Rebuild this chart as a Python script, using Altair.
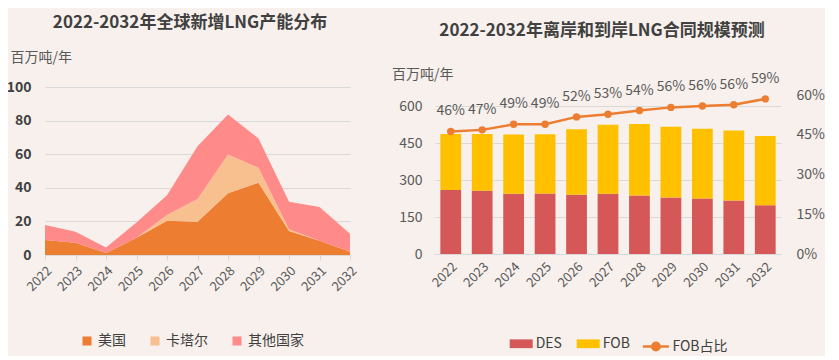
import altair as alt
import pandas as pd

# ---------------- data ----------------
years = [str(y) for y in range(2022, 2033)]

# left: new LNG capacity (million tonnes / year)
us = [9.0, 7.3, 1.2, 10.3, 20.4, 19.8, 36.8, 43.0, 14.3, 8.5, 2.0]
qatar = [0.0, 0.0, 0.0, 0.0, 3.4, 13.5, 23.0, 8.9, 1.1, 0.0, 0.0]
others = [8.8, 6.6, 3.2, 9.1, 11.8, 31.5, 23.8, 17.4, 16.3, 20.0, 10.7]
region_names = ["美国", "卡塔尔", "其他国家"]
region_colors = ["#ED7D31", "#F8C08F", "#FF8A8A"]

# right: DES / FOB contract volume (million tonnes / year)
des = [260, 257, 245, 246, 241, 245, 238, 229, 225, 217, 198]
fob = [227, 230, 240, 240, 265, 280, 290, 288, 284, 284, 281]
fob_share = [0.463, 0.469, 0.490, 0.490, 0.518, 0.528, 0.542, 0.554, 0.559, 0.564, 0.586]
fob_share_labels = ["46%", "47%", "49%", "49%", "52%", "53%", "54%", "56%", "56%", "56%", "59%"]
contract_names = ["DES", "FOB"]
contract_colors = ["#D55757", "#FFC000"]
share_name = "FOB占比"
line_color = "#ED7D31"

FONT = "Noto Sans CJK SC"
DARK = "#404040"
GREY = "#595959"
GRID = "#D9D9D9"

# ---------------- left chart ----------------
rows = []
for i, yv in enumerate(years):
    for k, (name, vals) in enumerate(zip(region_names, [us, qatar, others])):
        rows.append({"year": yv, "region": name, "value": vals[i], "order": k})
df_left = pd.DataFrame(rows)

left = alt.Chart(df_left).mark_area(opacity=1).encode(
    x=alt.X("year:O", title=None,
            scale=alt.Scale(type="point", padding=0),
            axis=alt.Axis(labelAngle=-45, labelFontSize=13, labelColor=GREY,
                          domainColor=GRID, tickColor=GRID, tickSize=5,
                          labelPadding=4, grid=False)),
    y=alt.Y("value:Q", stack="zero", title="百万吨/年",
            scale=alt.Scale(domain=[0, 100]),
            axis=alt.Axis(values=[0, 20, 40, 60, 80, 100], format="d",
                          labelFontSize=14, labelFontWeight="bold", labelColor=DARK,
                          labelPadding=14, domain=False, ticks=False,
                          gridColor=GRID, titleAngle=0, titleAlign="left",
                          titleBaseline="middle", titleX=-35, titleY=-30,
                          titleFontSize=14, titleFontWeight="normal", titleColor=GREY)),
    color=alt.Color("region:N",
                    scale=alt.Scale(domain=region_names, range=region_colors),
                    legend=alt.Legend(title=None, orient="none", legendX=35, legendY=247,
                                      direction="horizontal", symbolType="square",
                                      symbolSize=81, symbolStrokeWidth=0,
                                      labelFontSize=14, labelColor=DARK,
                                      labelOffset=4, columnPadding=22)),
    order=alt.Order("order:Q", sort="ascending"),
).properties(
    width=305, height=168,
    title=alt.TitleParams("2022-2032年全球新增LNG产能分布", fontSize=17, fontWeight="bold",
                          color=DARK, anchor="middle", frame="group", offset=18, dx=-7.5),
)

# ---------------- right chart ----------------
brows = []
for i, yv in enumerate(years):
    for k, (name, vals) in enumerate(zip(contract_names, [des, fob])):
        brows.append({"year": yv, "type": name, "value": vals[i], "order": k})
df_bar = pd.DataFrame(brows)

df_line = pd.DataFrame({"year": years, "share": fob_share,
                        "label": fob_share_labels, "name": [share_name] * len(years)})

x_band = alt.X("year:O", title=None,
               scale=alt.Scale(paddingInner=0.34, paddingOuter=0.17),
               axis=alt.Axis(labelAngle=-45, labelFontSize=13, labelColor=GREY,
                             domainColor=GRID, ticks=False, labelPadding=6, grid=False))

bars = alt.Chart(df_bar).mark_bar().encode(
    x=x_band,
    y=alt.Y("value:Q", stack="zero", title="百万吨/年",
            scale=alt.Scale(domain=[0, 678], nice=False),
            axis=alt.Axis(values=[0, 150, 300, 450, 600], format="d",
                          labelFontSize=14, labelColor=GREY, labelPadding=13,
                          domain=False, ticks=False, gridColor=GRID,
                          titleAngle=0, titleAlign="left", titleBaseline="middle",
                          titleX=-43.6, titleY=-13, titleFontSize=14,
                          titleFontWeight="normal", titleColor=GREY)),
    color=alt.Color("type:N",
                    scale=alt.Scale(domain=contract_names, range=contract_colors),
                    legend=alt.Legend(title=None, orient="none", legendX=74.7, legendY=245,
                                      direction="horizontal",
                                      symbolType="M-1,-0.38H1V0.38H-1Z",
                                      symbolSize=529, symbolStrokeWidth=0,
                                      labelFontSize=14, labelColor=DARK,
                                      labelOffset=3, columnPadding=14)),
    order=alt.Order("order:Q", sort="ascending"),
)

y_share = alt.Y("share:Q", title=None,
                scale=alt.Scale(domain=[0, 0.631], nice=False),
                axis=alt.Axis(orient="right", values=[0, 0.15, 0.30, 0.45, 0.60],
                              format=".0%", labelFontSize=14, labelColor=GREY,
                              labelPadding=15, domain=False, ticks=False, grid=False))

line = alt.Chart(df_line).mark_line(color=line_color, strokeWidth=2.5).encode(
    x=x_band, y=y_share)

points = alt.Chart(df_line).mark_circle(size=55, opacity=1).encode(
    x=x_band, y=y_share,
    fill=alt.Fill("name:N", scale=alt.Scale(domain=[share_name], range=[line_color]),
                  legend=alt.Legend(title=None, orient="none", legendX=206.4, legendY=245,
                                    symbolType="M-1,0H1M0.28,0A0.28,0.28,0,1,1,-0.28,0A0.28,0.28,0,1,1,0.28,0",
                                    symbolSize=676, symbolStrokeColor=line_color,
                                    symbolStrokeWidth=2.5, symbolFillColor=line_color,
                                    labelFontSize=14, labelColor=DARK, labelOffset=2)))

labels = alt.Chart(df_line).mark_text(dy=-20, fontSize=14, color=GREY,
                                      align="center", baseline="middle").encode(
    x=x_band, y=y_share, text="label:N")

share_layer = alt.layer(line, points, labels)

right = alt.layer(bars, share_layer).resolve_scale(y="independent").properties(
    width=346, height=167,
    title=alt.TitleParams("2022-2032年离岸和到岸LNG合同规模预测", fontSize=17, fontWeight="bold",
                          color=DARK, anchor="middle", frame="group", offset=27, dx=-6),
)

chart = alt.hconcat(left, right, spacing=85, bounds="flush").resolve_scale(
    color="independent", fill="independent", x="independent", y="independent"
).resolve_legend(color="independent", fill="independent").properties(
    padding={"left": -2, "top": 6, "right": 0, "bottom": 0}
).configure(
    background="#F7F0EC", font=FONT
).configure_view(stroke=None)

chart.save("out.html", embed_options={"renderer": "svg", "actions": False})
